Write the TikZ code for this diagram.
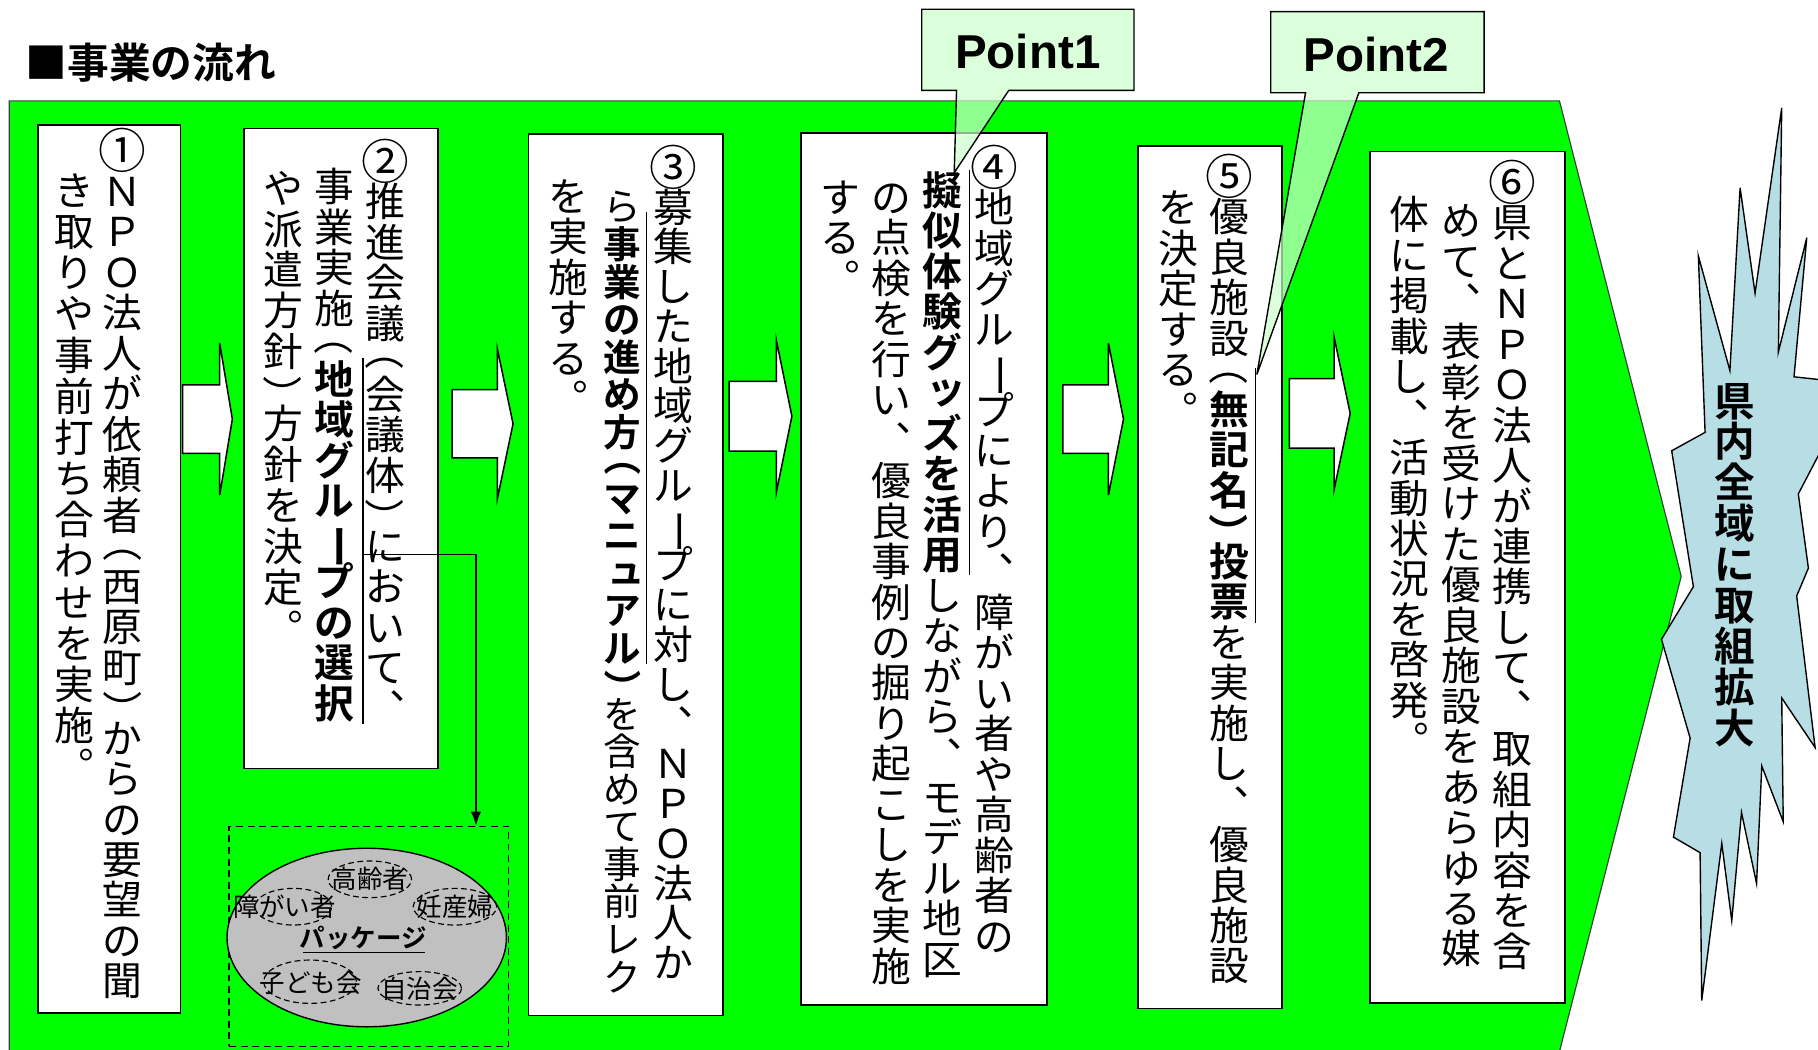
\documentclass[tikz,border=0pt]{standalone}
\usepackage{fontspec}
\usepackage{graphicx}
\usetikzlibrary{arrows.meta,shapes.geometric}
\newfontfamily\jp{Noto Sans CJK JP}[BoldFont={Noto Sans CJK JP Bold}]
\newfontfamily\lsans{Liberation Sans}
\definecolor{flowgreen}{RGB}{0,255,0}
\definecolor{ptfill}{RGB}{204,255,204}
\definecolor{burstblue}{RGB}{183,222,228}
\definecolor{pkggray}{RGB}{192,192,192}
% ---- vertical text machinery ----
\newdimen\vext
\def\B{\bfseries}
\def\N{\mdseries}
\def\vtend{vtend-sentinel}
\def\vtgobble#1{}
\def\vtfirst#1{#1}
\newcommand\vcell[1]{\hbox to 1em{\vrule height .88em depth .12em width 0pt\hss\smash{#1}\hss}\vskip\vext}
\newcommand\vhalf[2]{\hbox to 1em{\vrule height .555em depth .195em width 0pt\hss\smash{\raisebox{#2}{#1}}\hss}\vskip\vext}
\newcommand\vsk[1]{\hbox to 1em{\vrule height .88em depth .12em width 0pt\hss\smash{\raisebox{.1em}{\kern.2em#1}}\hss}\vskip\vext}
\def\vtone#1{%
 \ifx#1\B\bfseries\else
 \ifx#1\N\mdseries\else
 \ifx#1、\vcell{︑}\else
 \ifx#1。\vcell{︒}\else
 \ifx#1（\vhalf{\rotatebox[origin=c]{-90}{（}}{0pt}\else
 \ifx#1）\vhalf{\rotatebox[origin=c]{-90}{）}}{-.4em}\else
 \ifx#1ー\vcell{\rotatebox[origin=c]{-90}{\scalebox{1.12}[1]{ー}}}\else
 \ifx#1ッ\vsk{ッ}\else
 \ifx#1ュ\vsk{ュ}\else
 \vcell{#1}%
 \fi\fi\fi\fi\fi\fi\fi\fi\fi}
\def\vtloop#1{\ifx\vtend#1\expandafter\vtgobble\else\expandafter\vtfirst\fi{\vtone#1\vtloop}}
\newcommand\vt[2][0.6pt]{\vbox{\offinterlineskip\vext=#1\relax\vtloop#2\vtend}}
\newcommand\cnum[1]{\raisebox{-.07em}{\scalebox{1.2}{#1}}}
\def\One{\cnum{①}}\def\Two{\cnum{②}}\def\Three{\cnum{③}}
\def\Four{\cnum{④}}\def\Five{\cnum{⑤}}\def\Six{\cnum{⑥}}
\newcommand\blockarrow[6]{%
  \filldraw[blockarr] (#1,{#4-#5}) -- (#2,{#4-#5}) -- (#2,{#4-#6}) -- (#3,#4)
   -- (#2,{#4+#6}) -- (#2,{#4+#5}) -- (#1,{#4+#5}) -- cycle;}
\begin{document}
\begin{tikzpicture}[x=1pt,y=-1pt,
  vcol/.style={anchor=north,inner sep=0pt,outer sep=0pt,
    font=\jp\fontsize{34.3}{40}\selectfont},
  stepbox/.style={draw=black,line width=1.5pt,fill=white,inner sep=0pt,anchor=north west},
  blockarr/.style={draw=black,line width=1.3pt,fill=white,line join=miter},
  sideline/.style={line width=1.2pt},
  callout/.style={draw=black,line width=1.2pt,fill=ptfill,fill opacity=0.7},
  ptext/.style={font=\lsans\bfseries\fontsize{41}{45}\selectfont,inner sep=0pt},
  small/.style={font=\jp\fontsize{22}{24}\selectfont,inner sep=0pt},
  subell/.style={draw=black,dash pattern=on 5pt off 3pt,line width=1pt,ellipse,inner sep=0pt}
]
\useasboundingbox (0,0) rectangle (1568,905);
\clip (0,0) rectangle (1568,905);

% title
\node[anchor=west,inner sep=0pt,font=\jp\bfseries\fontsize{36}{40}\selectfont] (title) at (22,54) {■事業の流れ};

% green flow shape
\filldraw[fill=flowgreen,draw=black!75,line width=1pt] (8,87) -- (1345,87) -- (1450,497) -- (1345,907) -- (8,907) -- cycle;

% step boxes
\node[stepbox,minimum width=123pt,minimum height=766pt] (b1) at (32,107) {};
\node[stepbox,minimum width=167pt,minimum height=552pt] (b2) at (210,110) {};
\node[stepbox,minimum width=168pt,minimum height=760pt] (b3) at (455,115) {};
\node[stepbox,minimum width=212pt,minimum height=752pt] (b4) at (690,114) {};
\node[stepbox,minimum width=124pt,minimum height=744pt] (b5) at (981,125) {};
\node[stepbox,minimum width=168pt,minimum height=734pt] (b6) at (1181,130) {};

% block arrows
\blockarrow{157.5}{189.5}{200.4}{361.5}{29.5}{65.5}
\blockarrow{390}{429}{442.5}{365.5}{29.5}{64.5}
\blockarrow{628.8}{669.5}{683}{359}{30}{66}
\blockarrow{916.6}{956}{969}{361.5}{29.5}{65.5}
\blockarrow{1112}{1150.6}{1164.5}{356.5}{30}{66}

% box 1
\node[vcol] (b1c1) at (105.7,113) {\vt{\One ＮＰＯ法人が依頼者（西原町）からの要望の聞}};
\node[vcol] (b1c2) at (64,147) {\vt[1.2pt]{き取りや事前打ち合わせを実施。}};
% box 2
\node[vcol] (b2c1) at (332,122) {\vt{\Two 推進会議（会議体）において、}};
\node[vcol] (b2c2) at (288,144) {\vt{事業実施（\B 地域グループの選択}};
\node[vcol] (b2c3) at (244,145) {\vt[1pt]{や派遣方針）方針を決定。}};
% box 3
\node[vcol] (b3c1) at (580.5,127) {\vt[0pt]{\Three 募集した地域グループに対し、ＮＰＯ法人か}};
\node[vcol,font=\jp\fontsize{32.4}{38}\selectfont] (b3c2) at (537,162) {\vt[0pt]{ら\B 事業の進め方（マニュアル）\N を含めて事前レク}};
\node[vcol] (b3c3) at (490,152) {\vt{を実施する。}};
% box 4
\node[vcol] (b4c1) at (857.5,127) {\vt{\Four 地域グループにより、障がい者や高齢者の}};
\node[vcol] (b4c2) at (813,147) {\vt{\B 擬似体験グッズを活用\N しながら、モデル地区}};
\node[vcol] (b4c3) at (769,153) {\vt{の点検を行い、優良事例の掘り起こしを実施}};
\node[vcol] (b4c4) at (725,153) {\vt{する。}};
% box 5
\node[vcol] (b5c1) at (1060,135) {\vt{\Five 優良施設（\B 無記名）投票\N を実施し、優良施設}};
\node[vcol] (b5c2) at (1016,162) {\vt{を決定する。}};
% box 6
\node[vcol] (b6c1) at (1304.6,140) {\vt{\Six 県とＮＰＯ法人が連携して、取組内容を含}};
\node[vcol] (b6c2) at (1260,173) {\vt{めて、表彰を受けた優良施設をあらゆる媒}};
\node[vcol] (b6c3) at (1215.6,168) {\vt{体に掲載し、活動状況を啓発。}};

% emphasis side lines
\draw[sideline] (313,309) -- (313,624);
\draw[sideline] (557.7,183) -- (557.7,573);
\draw[sideline] (836,147) -- (836,496);
\draw[sideline] (1083,317) -- (1083,537);

% package
\node[draw=black,dash pattern=on 6pt off 4pt,line width=1pt,minimum width=241pt,minimum height=190pt,anchor=north west,inner sep=0pt] (pkg) at (197,712) {};
\coordinate (cstart) at (313,478);
\draw[line width=1.2pt,-{Latex[length=12pt,width=9pt]}] (cstart) -| ([xshift=92.5pt]pkg.north);
\node[ellipse,draw=black,line width=1.2pt,fill=pkggray,minimum width=241pt,minimum height=154pt,inner sep=0pt] (pkgell) at (316.3,808.6) {};
\node[subell,minimum width=72pt,minimum height=31.6pt] (e1) at (319,758.4) {};
\node[subell,minimum width=66pt,minimum height=31.6pt] (e2) at (253,782) {};
\node[subell,minimum width=72pt,minimum height=31.6pt] (e3) at (392.4,782) {};
\node[subell,minimum width=80pt,minimum height=37.4pt] (e4) at (267.4,846.7) {};
\node[subell,minimum width=72pt,minimum height=28.8pt] (e5) at (362,852.4) {};
\node[small] (t1) at (319,758) {高齢者};
\node[small] (t2) at (245.8,782) {障がい者};
\node[small] (t3) at (392.4,782) {妊産婦};
\node[small,font=\jp\bfseries\fontsize{22}{24}\selectfont] (t4) at (313.4,809) {パッケージ};
\draw[line width=1.3pt] (261.6,821.7) -- (366.6,821.7);
\node[small] (t5) at (268,847.6) {子ども会};
\node[small] (t6) at (362,852.4) {自治会};

% starburst
\filldraw[fill=burstblue,draw=black,line width=1.2pt]
  (1536.7,93) -- (1533.8,303.6) -- (1558.3,205) -- (1547.3,325) -- (1575,328)
  -- (1575,380) -- (1551,426) -- (1559.7,490) -- (1549.6,514) -- (1565.5,644.7)
  -- (1536.7,602) -- (1538,708.7) -- (1519.5,660.7) -- (1515,762) -- (1502,700.7)
  -- (1493.6,794) -- (1485,727.4) -- (1467.7,863) -- (1466.3,735.4) -- (1443.3,722)
  -- (1457.7,636.6) -- (1433,551.4) -- (1460.5,506) -- (1441.8,388.8) -- (1470.6,372.9)
  -- (1464.8,220.8) -- (1492,319.6) -- (1500.8,162) -- (1513.7,252.9) -- cycle;
\node[vcol,font=\jp\bfseries\fontsize{35}{40}\selectfont] (bursttext) at (1496.5,328) {\vt[0.3pt]{県内全域に取組拡大}};

% point callouts
\filldraw[callout] (795,8) -- (978,8) -- (978,78) -- (870,78) -- (823,149) -- (825,78) -- (795,78) -- cycle;
\node[ptext] (pt1) at (886.5,44) {Point1};
\filldraw[callout] (1096,10) -- (1280,10) -- (1280,80) -- (1172,80) -- (1084,323) -- (1126,80) -- (1096,80) -- cycle;
\node[ptext] (pt2) at (1187,47) {Point2};
\end{tikzpicture}
\end{document}
